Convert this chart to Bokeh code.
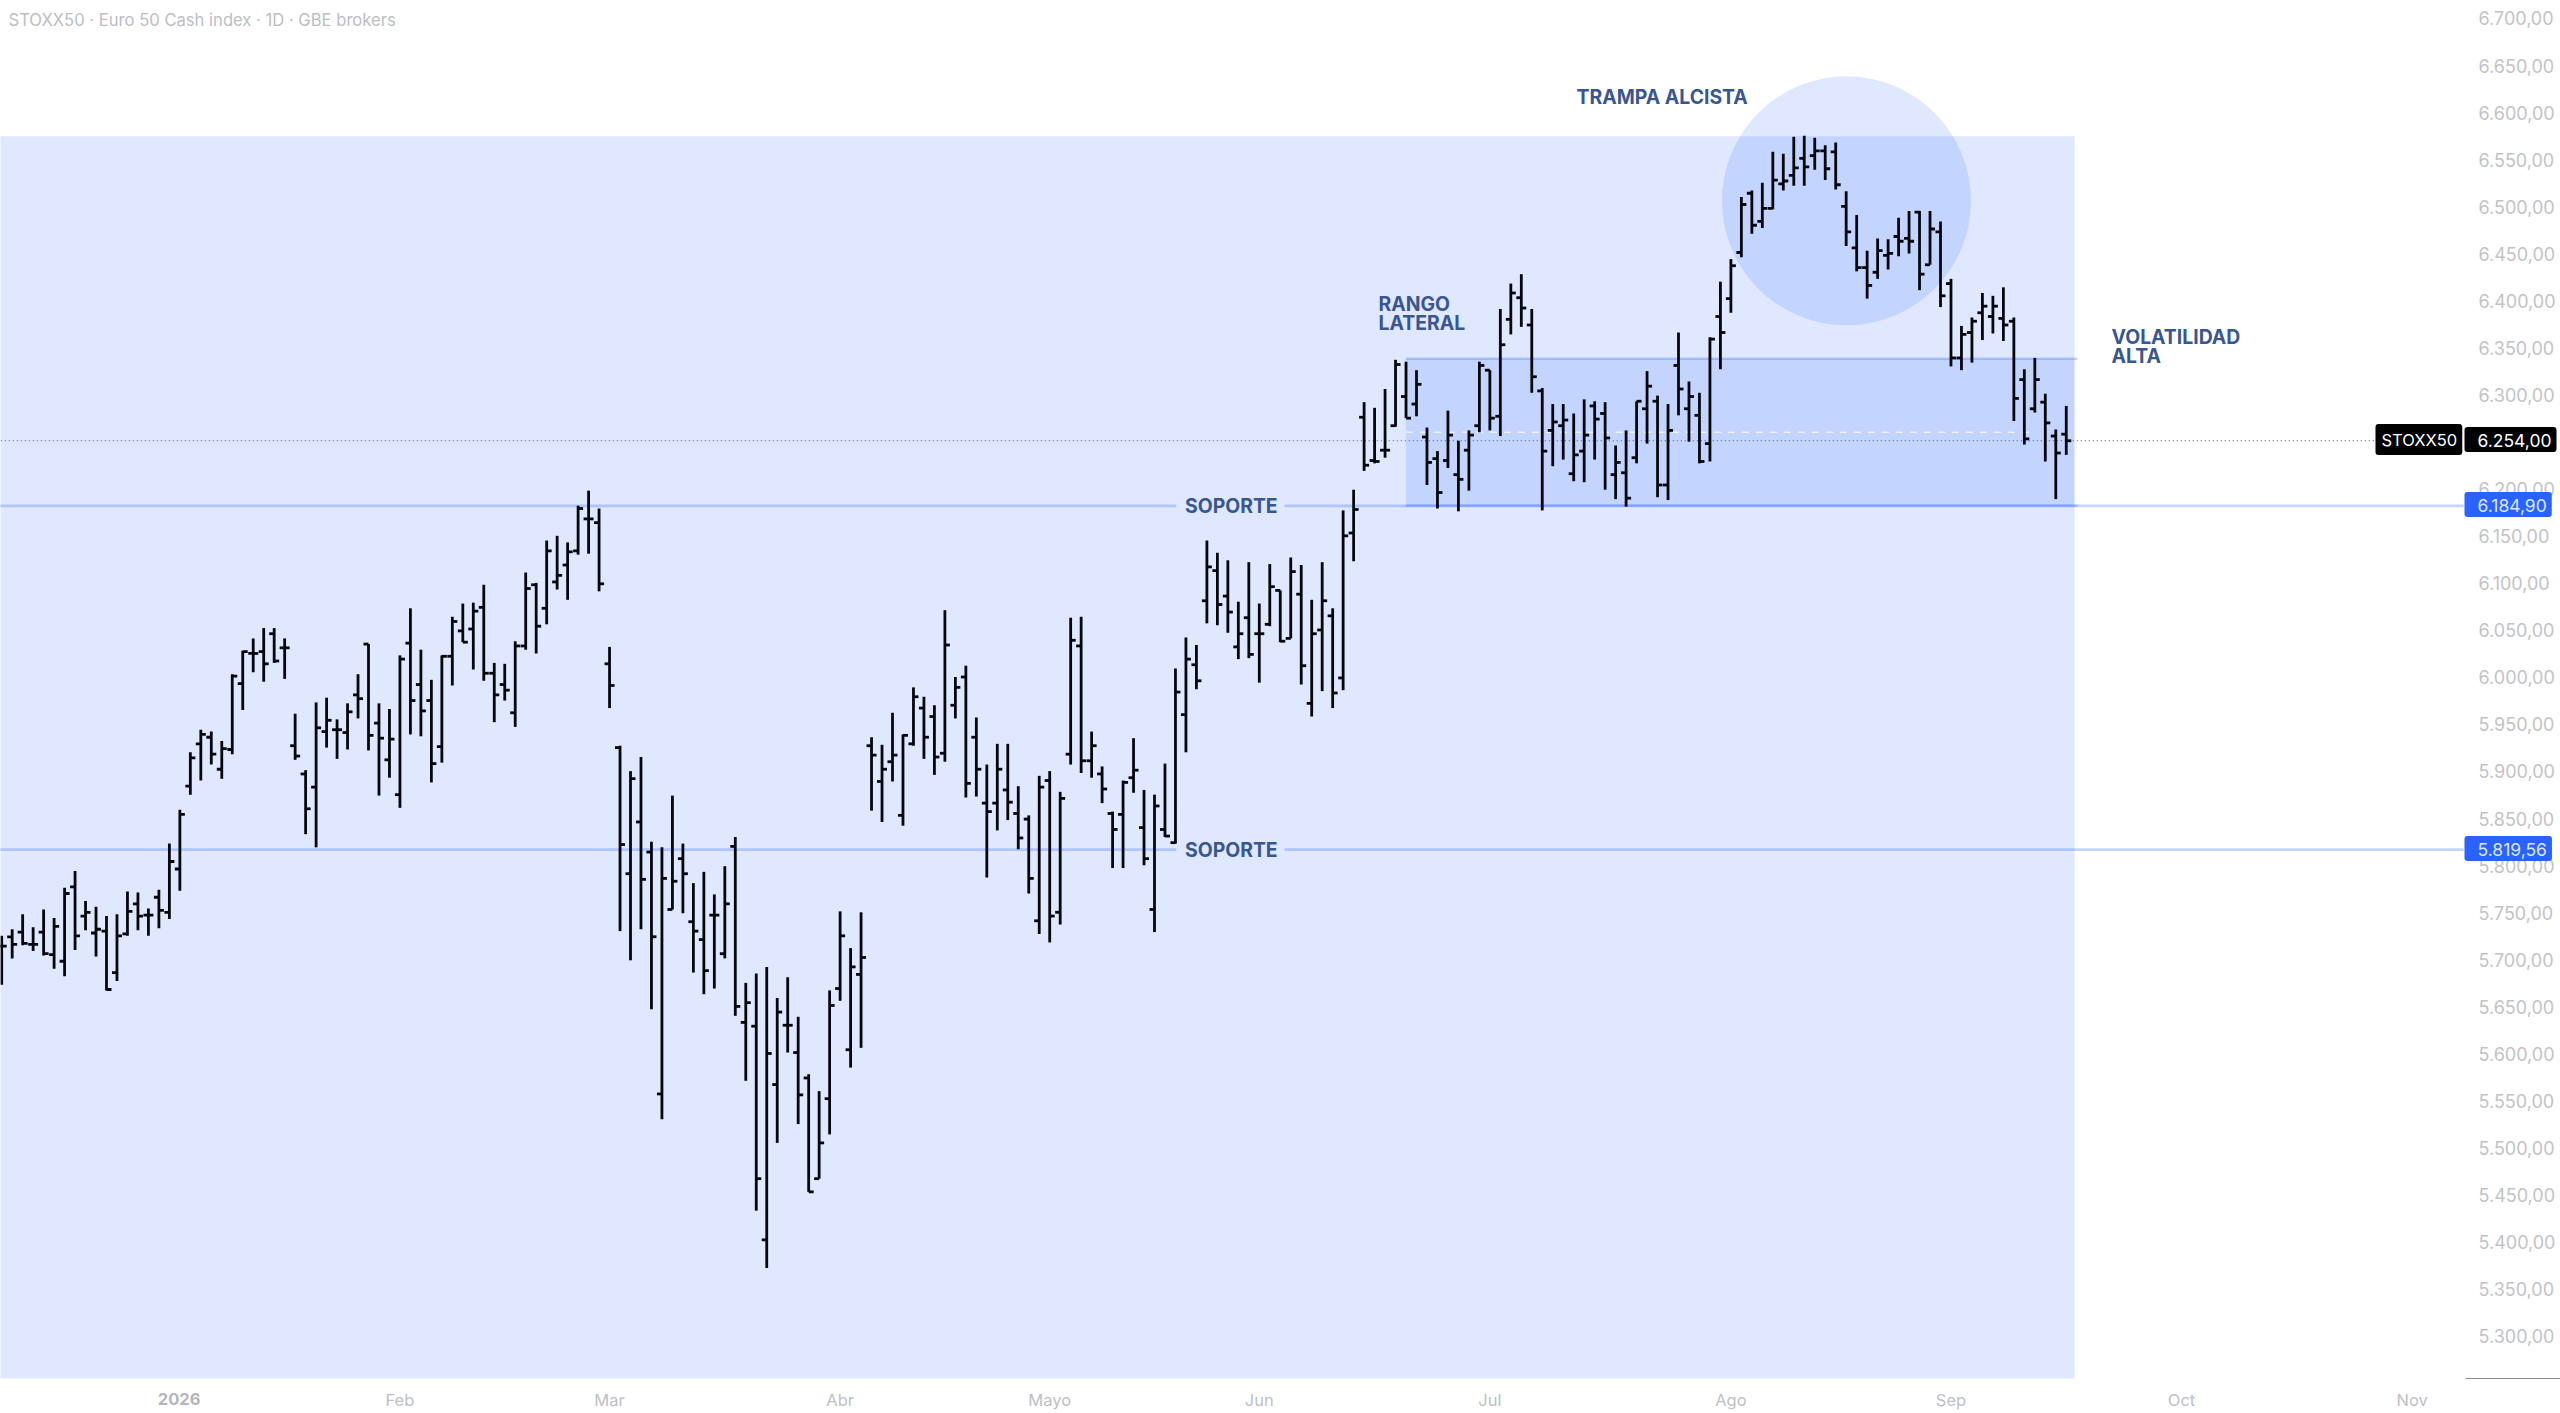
from bokeh.plotting import figure
from bokeh.embed import file_html
from bokeh.resources import INLINE
from bokeh.models import Range1d, LinearAxis, FixedTicker, Label

title_text = "STOXX50 · Euro 50 Cash index · 1D · GBE brokers"

high = [5728,5735,5751,5737,5756,5747,5779,5797,5765,5759,5749,5751,5775,5774,5757,5777,5826,5862,
 5923,5947,5945,5935,6006,6031,6044,6055,6055,6044,5964,5904,5976,5981,5958,5975,6006,6038,5975,5969,6026,6076,6032,6000,6026,6067,6081,6082,6101,6018,6017,6041,6114,6103,6148,6153,6146,6185,6201,6182,6035,
 5930,5903,5918,5828,5822,5877,5826,5784,5796,5772,5802,5833,5678,5688,5695,5662,5684,5642,5581,5563,5670,5754,5715,5753,
 5939,5931,5965,5942,5992,5982,5973,6074,6003,6015,5960,5910,5932,5932,5887,5856,5898,5903,5881,6066,6067,5945,5908,5860,5893,5938,5883,5878,5911,6012,6045,6037,
 6148,6135,6127,6083,6125,6081,6123,6095,6130,6122,6085,6125,6076,6180,
 6202,6295,6289,6309,6340,6338,6329,6268,6243,6286,6254,6265,6338,6329,6394,6421,6431,6394,6310,6293,6293,6283,6298,6296,6295,6249,6265,6296,6328,6302,6293,6369,6317,6305,6364,6423,6447,
 6513,6520,6528,6561,6559,6577,6578,6576,6568,6571,6519,6494,6456,6469,
 6468,6491,6498,6498,6498,6487,6426,6376,6385,6411,6408,6417,6385,6330,6342,6304,6266,6291]
low = [5676,5704,5718,5712,5707,5693,5685,5713,5734,5706,5670,5680,5728,5734,5728,5736,5746,5776,
 5878,5893,5910,5895,5921,5968,6008,5998,6018,6001,5915,5836,5822,5928,5916,5926,5959,5925,5877,5896,5864,5942,5940,5891,5912,5994,6040,6011,5999,5955,5978,5950,6032,6028,6059,6096,6085,6133,6134,6094,5970,
 5733,5702,5735,5650,5533,5756,5752,5689,5666,5672,5704,5643,5574,5436,5375,5508,5604,5528,5456,5470,5517,5659,5588,5609,
 5861,5849,5892,5845,5930,5916,5899,5913,5959,5875,5876,5790,5840,5851,5820,5773,5730,5721,5740,5910,5901,5896,5869,5800,5800,5880,5803,5732,5833,5826,5923,5990,
 6060,6058,6050,6022,6023,5997,6057,6040,6044,5995,5961,5988,5970,5989,
 6126,6222,6230,6236,6269,6278,6280,6207,6182,6225,6179,6201,6263,6265,6259,6367,6375,6305,6180,6227,6234,6211,6210,6234,6202,6192,6184,6230,6251,6194,6191,6281,6253,6230,6232,6330,6390,
 6449,6474,6480,6500,6520,6525,6525,6542,6531,6521,6461,6434,6405,6426,
 6436,6450,6453,6414,6441,6396,6333,6329,6337,6361,6368,6360,6275,6250,6284,6232,6192,6239]
open_ = [5717,5727,5732,5719,5732,5708,5701,5780,5749,5731,5733,5689,5730,5762,5750,5769,5753,5799,
 5887,5932,5939,5905,5926,5996,6028,6030,6049,6034,5930,5900,5886,5945,5947,5944,5984,6038,5954,5915,5878,6039,5995,5978,5929,6025,6052,6054,6077,6007,5995,5965,6036,6101,6076,6104,6122,6137,6171,6167,6017,
 5928,5794,5849,5817,5560,5756,5810,5743,5724,5750,5709,5823,5636,5632,5405,5570,5633,5604,5577,5470,5555,5672,5607,5687,
 5930,5892,5913,5856,5932,5970,5961,5922,5973,6003,5939,5869,5869,5883,5858,5852,5744,5893,5753,5921,6036,5914,5900,5858,5857,5896,5843,5756,5841,5827,5963,6016,
 6084,6116,6089,6035,6066,6049,6059,6095,6044,6091,5975,6053,6068,6002,
 6156,6279,6233,6244,6270,6301,6293,6258,6235,6233,6218,6244,6270,6329,6280,6383,6406,6377,6307,6265,6270,6219,6243,6291,6283,6218,6220,6236,6288,6296,6207,6334,6288,6281,6251,6386,6405,
 6454,6517,6487,6501,6527,6536,6554,6557,6562,6561,6503,6459,6438,6433,
 6451,6471,6469,6497,6441,6476,6421,6342,6369,6390,6386,6384,6381,6319,6288,6295,6259,6261]
close = [5717,5719,5720,5719,5709,5738,5773,5728,5753,5735,5671,5728,5754,5749,5750,5755,5807,5857,
 5917,5942,5921,5927,6004,6030,6028,6017,6020,6034,5919,5863,5949,5957,5947,5966,5980,5941,5938,5937,6022,5978,5967,5911,6025,6062,6040,6073,6007,5984,5989,6036,6097,6057,6137,6111,6136,6182,6171,6102,5994,
 5825,5895,5788,5727,5789,5786,5794,5733,5691,5750,5762,5653,5657,5470,5603,5647,5633,5559,5456,5508,5654,5728,5695,5705,
 5920,5905,5920,5941,5982,5939,5918,6037,5992,5890,5905,5860,5905,5870,5832,5789,5886,5749,5874,6042,5914,5930,5884,5841,5891,5904,5810,5866,5834,5987,6022,5999,
 6120,6080,6072,6049,6027,6049,6099,6041,6115,6015,6049,6084,5986,6153,
 6181,6228,6232,6244,6335,6278,6314,6231,6199,6260,6213,6260,6334,6278,6356,6411,6395,6322,6243,6274,6276,6239,6260,6277,6257,6231,6193,6296,6312,6207,6265,6309,6301,6232,6362,6369,6440,
 6505,6483,6501,6531,6530,6544,6545,6562,6543,6526,6476,6438,6419,6456,
 6453,6466,6466,6431,6479,6408,6342,6367,6381,6397,6397,6377,6299,6256,6319,6273,6241,6254]

month_positions = [17, 38, 58, 80, 100, 120, 142, 165, 186, 208, 230]
month_labels = ["", "Feb", "Mar", "Abr", "Mayo", "Jun", "Jul", "Ago", "Sep", "Oct", "Nov"]
year_label = "2026"
price_ticks = list(range(5300, 6701, 50))
price_labels = [f"{v // 1000}.{v % 1000:03d},00" for v in price_ticks]

support_upper = 6184.90
support_lower = 5819.56
last_price = 6254.00
zone_top, zone_bottom = 6577.6, 5257.4
range_top = 6341.1
white_dash = 6263.1
circle_x, circle_y = 176.03, 6508.9

PX_X, X0 = 10.48, 1.2          # image px per bar, image px of bar 0
PX_Y = 0.9412                  # image px per index point
TOP_VALUE = support_upper + 505.3 / PX_Y
BOT_VALUE = support_upper - (1378 - 505.3) / PX_Y
ix = lambda px: (px - X0) / PX_X
dy = lambda px: px / PX_Y
vy = lambda py: support_upper + (505.3 - py) / PX_Y

p = figure(frame_width=2470, frame_height=1378, width=2560, height=1413,
           output_backend="svg", toolbar_location=None,
           x_range=Range1d(ix(0), ix(2470)), y_range=Range1d(BOT_VALUE, TOP_VALUE),
           y_axis_location=None, background_fill_color="white", border_fill_color="white",
           min_border_left=0, min_border_top=0, min_border_right=90, min_border_bottom=35)
p.outline_line_color = None
p.grid.visible = False

# axes
p.xaxis.ticker = FixedTicker(ticks=month_positions)
p.xaxis.major_label_overrides = dict(zip(month_positions, month_labels))
p.xaxis.axis_line_color = None
p.xaxis.major_tick_line_color = None
p.xaxis.minor_tick_line_color = None
p.xaxis.major_label_standoff = 5
p.xaxis.major_label_text_font = "Inter"
p.xaxis.major_label_text_font_size = "16.5px"
p.xaxis.major_label_text_color = "#BEC0C5"

p.extra_y_ranges = {"ticks": Range1d(BOT_VALUE - dy(2.5), TOP_VALUE - dy(2.5))}
ax = LinearAxis(y_range_name="ticks", ticker=FixedTicker(ticks=price_ticks),
                major_label_overrides=dict(zip(price_ticks, price_labels)))
ax.axis_line_color = None
ax.major_tick_line_color = None
ax.minor_tick_line_color = None
ax.major_label_standoff = 2
ax.major_label_text_font = "Inter"
ax.major_label_text_font_size = "18px"
ax.major_label_text_color = "#C2C3C7"
p.add_layout(ax, "right")

BLUE = "#2962FF"
# zones
p.quad(left=[-2], right=[ix(2074)], top=[zone_top], bottom=[zone_bottom],
       fill_color=BLUE, fill_alpha=0.15, line_color=None)
p.quad(left=[ix(1405.4)], right=[ix(2074)], top=[range_top], bottom=[support_upper],
       fill_color=BLUE, fill_alpha=0.15, line_color=None)
p.scatter(x=[circle_x], y=[circle_y], size=249, marker="circle",
          fill_color=BLUE, fill_alpha=0.15, line_color=None)

# range borders and support lines
p.segment(x0=[ix(1405.4), ix(1405.4)], x1=[ix(2077), ix(2077)],
          y0=[range_top, support_upper], y1=[range_top, support_upper],
          line_color=BLUE, line_alpha=0.27, line_width=2.5)
for lvl in (support_upper, support_lower):
    p.segment(x0=[-2, ix(1284)], x1=[ix(1175.7), ix(2463)], y0=[lvl, lvl], y1=[lvl, lvl],
              line_color=BLUE, line_alpha=0.27, line_width=2.7)
p.segment(x0=[ix(1405.4)], x1=[ix(2030)], y0=[white_dash], y1=[white_dash],
          line_color="white", line_alpha=0.7, line_width=1.5, line_dash="7 7")
p.segment(x0=[-2], x1=[ix(2375)], y0=[last_price], y1=[last_price],
          line_color="#4A4F5C", line_width=1.1, line_dash="1 3")

# OHLC bars
xs = list(range(len(high)))
tick = 5 / PX_X
p.segment(x0=xs, x1=xs, y0=low, y1=high, line_color="#05070D", line_width=2.8)
p.segment(x0=[i - tick for i in xs], x1=xs, y0=open_, y1=open_, line_color="#05070D", line_width=2.8)
p.segment(x0=xs, x1=[i + tick for i in xs], y0=close, y1=close, line_color="#05070D", line_width=2.8)

def lab(text, xpx, y, color, size, style="normal", align="left", place=None, **kw):
    m = Label(x=ix(xpx), y=y, text=text, text_color=color, text_font="Inter",
              text_font_size=size, text_font_style=style, text_align=align,
              text_baseline="middle", level="overlay", **kw)
    if place:
        p.add_layout(m, place)
    else:
        p.add_layout(m)

NAVY = "#39578F"
lab(title_text, 8, vy(19), "#BCBEC4", "16.6px")
lab(year_label, 178.6, vy(1398), "#B4B6BC", "16.5px", "bold", "center", place="below")
lab("TRAMPA ALCISTA", 1576, vy(96), NAVY, "19.4px", "bold")
lab("RANGO", 1378, vy(303.5), NAVY, "19.4px", "bold")
lab("LATERAL", 1378, vy(322.5), NAVY, "19.4px", "bold")
lab("VOLATILIDAD", 2111, vy(336.5), NAVY, "19.4px", "bold")
lab("ALTA", 2111, vy(355.5), NAVY, "19.4px", "bold")
lab("SOPORTE", 1184.5, support_upper, NAVY, "19.4px", "bold")
lab("SOPORTE", 1184.5, support_lower, NAVY, "19.4px", "bold")

# price flags and the short scale corner line live in the side panel, outside the frame
lab(" ", 2465, vy(1378), "#8A8D94", "1px", background_fill_color="#8A8D94", background_fill_alpha=1,
    padding=(95, 0, 0, 0), place="right")
box = dict(background_fill_alpha=1, border_radius=3, place="right")
lift = dy(1.2)
lab("STOXX50", 2375, last_price + lift, "white", "16.5px",
    background_fill_color="#000000", padding=(6, 5, 6, 5), **box)
lab("6.254,00", 2464, last_price + lift, "white", "17.5px",
    background_fill_color="#000000", padding=(13, 5, 7, 5), **box)
lab("6.184,90", 2464, support_upper + lift, "#DCE6FF", "17.5px",
    background_fill_color=BLUE, padding=(13, 5, 7, 5), **box)
lab("5.819,56", 2464, support_lower + lift, "#DCE6FF", "17.5px",
    background_fill_color=BLUE, padding=(13, 5, 7, 5), **box)

open("out.html", "w").write(file_html(p, INLINE))
